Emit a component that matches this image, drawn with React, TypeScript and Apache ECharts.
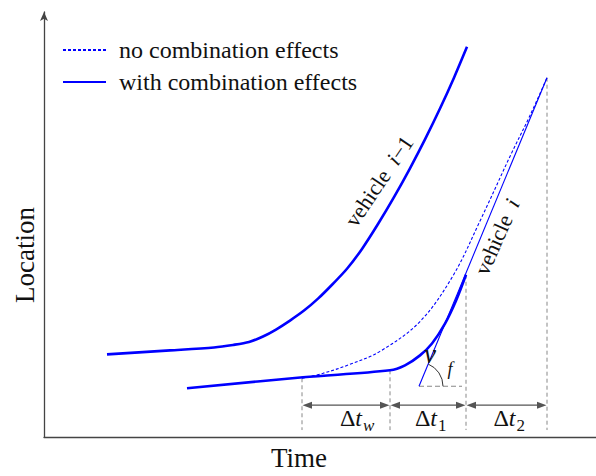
import React, { useEffect, useRef } from 'react';
import * as echarts from 'echarts';

const FONT = 'Liberation Serif';
const BLUE = '#0000ff';
const INK = '#111111';
const GRAY = '#555555';

// Schematic units: Time (x) and Location (y)
const leaderTime = [63, 126, 170, 189, 205, 219, 232, 246, 260, 274, 289, 303, 318, 334, 350, 366, 381, 396, 410, 423];
const leaderLoc = [83, 87, 90, 92.5, 95.5, 101, 108, 117, 127, 139, 154, 169, 189, 214, 241, 270, 299, 330, 361, 392];
const followerTime = [143, 259, 346, 361, 376, 388, 401, 412, 422];
const followerLoc = [49, 60, 67, 72, 82, 94, 114, 137, 163];
const noEffectTime = [258, 279, 306, 336, 376, 409, 436, 467, 486, 503];
const noEffectLoc = [59, 64, 73, 86, 116, 162, 217, 284, 323, 361];
const freeFlowTime = [375, 503];
const freeFlowLoc = [51, 361];
const refEndTime = 418;
const markTimes = [258, 346, 422, 503];
const markTopLoc = [59, 67, 163, 361];
const guideBottomLoc = 7;
const dimLoc = 32;
const dimSubs = ['w', '1', '2'];
const legendNames = ['no combination effects', 'with combination effects'];
const vehicleIndex = ['i−1', 'i'];
const vehicleLabelTime = [335, 453];
const vehicleLabelLoc = [257, 201];

const zip = (xs: number[], ys: number[]) => xs.map((x, i) => [x, ys[i]]);

const X_MAX = 552;
const Y_MAX = 427;

export default function App() {
  const ref = useRef<HTMLDivElement>(null);

  useEffect(() => {
    if (!ref.current) return;
    const chart = echarts.init(ref.current, undefined, { renderer: 'svg' });

    const vehicleRot = [56, 66];
    const dimMainEnd = [16, 9, 9];

    const option: any = {
      animation: false,
      backgroundColor: '#ffffff',
      textStyle: { fontFamily: FONT },
      grid: { left: 44, right: 0, top: 12, bottom: 37 },
      legend: {
        data: legendNames,
        orient: 'vertical',
        left: 62,
        top: 38,
        padding: 0,
        itemWidth: 43,
        itemHeight: 10,
        itemGap: 8,
        selectedMode: false,
        itemStyle: { opacity: 0 },
        textStyle: {
          fontFamily: FONT,
          fontSize: 24,
          color: INK,
          lineHeight: 24,
          padding: [0, 0, 0, 8],
        },
      },
      xAxis: {
        type: 'value',
        min: 0,
        max: X_MAX,
        name: 'Time',
        nameLocation: 'middle',
        nameGap: 7,
        nameTextStyle: { fontFamily: FONT, fontSize: 27, color: INK, padding: [0, 42, 0, 0] },
        axisLine: { show: true, lineStyle: { color: '#444', width: 1.3 } },
        axisTick: { show: false },
        axisLabel: { show: false },
        splitLine: { show: false },
      },
      yAxis: {
        type: 'value',
        min: 0,
        max: Y_MAX,
        name: 'Location',
        nameLocation: 'middle',
        nameRotate: 90,
        nameGap: 6,
        nameTextStyle: { fontFamily: FONT, fontSize: 27, color: INK, padding: [0, 61, 0, 0] },
        axisLine: {
          show: true,
          symbol: ['none', 'arrow'],
          symbolSize: [6, 9],
          lineStyle: { color: '#444', width: 1.3 },
        },
        axisTick: { show: false },
        axisLabel: { show: false },
        splitLine: { show: false },
      },
      series: [
        {
          name: 'vehicle i−1',
          type: 'line',
          data: zip(leaderTime, leaderLoc),
          smooth: 0.3,
          symbol: 'none',
          lineStyle: { color: BLUE, width: 2.6 },
          itemStyle: { color: BLUE },
          z: 5,
        },
        {
          name: legendNames[1],
          type: 'line',
          data: zip(followerTime, followerLoc),
          smooth: 0.35,
          symbol: 'none',
          lineStyle: { color: BLUE, width: 2.6 },
          itemStyle: { color: BLUE },
          z: 5,
        },
        {
          name: legendNames[0],
          type: 'line',
          data: zip(noEffectTime, noEffectLoc),
          smooth: 0.35,
          symbol: 'none',
          lineStyle: { color: BLUE, width: 1.1, type: [3, 2] },
          itemStyle: { color: BLUE },
          z: 4,
        },
        {
          name: 'free-flow speed',
          type: 'line',
          data: zip(freeFlowTime, freeFlowLoc),
          symbol: 'none',
          lineStyle: { color: BLUE, width: 1.1 },
          z: 4,
        },
        {
          name: 'reference',
          type: 'line',
          data: [
            [freeFlowTime[0], freeFlowLoc[0]],
            [refEndTime, freeFlowLoc[0]],
          ],
          symbol: 'none',
          lineStyle: { color: '#888', width: 1.1, type: [5, 3] },
          z: 3,
        },
        {
          name: 'guides',
          type: 'custom',
          data: zip(markTimes, markTopLoc),
          encode: { x: 0, y: 1 },
          z: 2,
          renderItem: (params: any, api: any) => {
            const top = api.coord([api.value(0), api.value(1)]);
            const bot = api.coord([api.value(0), guideBottomLoc]);
            return {
              type: 'line',
              shape: { x1: top[0], y1: top[1], x2: bot[0], y2: bot[1] },
              style: { stroke: '#888', lineWidth: 1, lineDash: [4, 3] },
            };
          },
        },
        {
          name: 'intervals',
          type: 'custom',
          data: markTimes.slice(0, 3).map((t, i) => [t, markTimes[i + 1], dimLoc]),
          encode: { x: [0, 1], y: 2 },
          z: 6,
          renderItem: (params: any, api: any) => {
            const i = params.dataIndex;
            const a = api.coord([api.value(0), api.value(2)]);
            const b = api.coord([api.value(1), api.value(2)]);
            const L = 10;
            const H = 3.5;
            const ex = (a[0] + b[0]) / 2 + dimMainEnd[i];
            const sub = dimSubs[i];
            const isLetter = /[a-z]/.test(sub);
            return {
              type: 'group',
              children: [
                {
                  type: 'line',
                  shape: { x1: a[0] + L, y1: a[1], x2: b[0] - L, y2: b[1] },
                  style: { stroke: GRAY, lineWidth: 1.3 },
                },
                {
                  type: 'polygon',
                  shape: { points: [[a[0] + 0.5, a[1]], [a[0] + L, a[1] - H], [a[0] + L, a[1] + H]] },
                  style: { fill: GRAY },
                },
                {
                  type: 'polygon',
                  shape: { points: [[b[0] - 0.5, b[1]], [b[0] - L, b[1] - H], [b[0] - L, b[1] + H]] },
                  style: { fill: GRAY },
                },
                {
                  type: 'text',
                  x: ex,
                  y: a[1] + 12.5,
                  style: {
                    text: '{d|Δ}{t|t}',
                    align: 'right',
                    verticalAlign: 'middle',
                    fill: INK,
                    rich: {
                      d: { fontFamily: FONT, fontSize: 24, fill: INK },
                      t: { fontFamily: FONT, fontSize: 24, fontStyle: 'italic', fill: INK },
                    },
                  },
                },
                {
                  type: 'text',
                  x: ex + 1,
                  y: a[1] + 20,
                  style: {
                    text: sub,
                    align: 'left',
                    verticalAlign: 'middle',
                    fill: INK,
                    fontFamily: FONT,
                    fontSize: 17,
                    fontStyle: isLetter ? 'italic' : 'normal',
                  },
                },
              ],
            };
          },
        },
        {
          name: 'speed angle',
          type: 'custom',
          data: [[freeFlowTime[0], freeFlowLoc[0]]],
          encode: { x: 0, y: 1 },
          z: 6,
          renderItem: (params: any, api: any) => {
            const c = api.coord([api.value(0), api.value(1)]);
            const far = api.coord([freeFlowTime[1], freeFlowLoc[1]]);
            const ang = Math.atan2(far[1] - c[1], far[0] - c[0]);
            return {
              type: 'group',
              children: [
                {
                  type: 'arc',
                  shape: { cx: c[0], cy: c[1], r: 24, startAngle: ang, endAngle: 0, clockwise: true },
                  style: { stroke: '#333', lineWidth: 1, fill: null },
                },
                {
                  type: 'text',
                  x: c[0] + 11,
                  y: c[1] - 32,
                  style: {
                    text: 'v',
                    align: 'center',
                    verticalAlign: 'middle',
                    fill: INK,
                    fontFamily: FONT,
                    fontSize: 27,
                    fontStyle: 'italic',
                  },
                },
                {
                  type: 'text',
                  x: c[0] + 31,
                  y: c[1] - 17,
                  style: {
                    text: 'f',
                    align: 'center',
                    verticalAlign: 'middle',
                    fill: INK,
                    fontFamily: FONT,
                    fontSize: 18,
                    fontStyle: 'italic',
                  },
                },
              ],
            };
          },
        },
        {
          name: 'vehicle labels',
          type: 'custom',
          data: zip(vehicleLabelTime, vehicleLabelLoc),
          encode: { x: 0, y: 1 },
          z: 6,
          renderItem: (params: any, api: any) => {
            const i = params.dataIndex;
            const p = api.coord([api.value(0), api.value(1)]);
            const idx = vehicleIndex[i];
            const tail = idx.slice(1);
            const text = tail ? `{n|vehicle  }{i|i}{n|${tail}}` : `{n|vehicle  }{i|i}`;
            return {
              type: 'text',
              x: p[0],
              y: p[1],
              rotation: (vehicleRot[i] * Math.PI) / 180,
              style: {
                text,
                align: 'center',
                verticalAlign: 'middle',
                fill: INK,
                rich: {
                  n: { fontFamily: FONT, fontSize: 22, fill: INK },
                  i: { fontFamily: FONT, fontSize: 22, fontStyle: 'italic', fill: INK },
                },
              },
            };
          },
        },
      ],
    };

    chart.setOption(option);
    return () => chart.dispose();
  }, []);

  return (
    <div
      ref={ref}
      style={{ position: 'fixed', left: 0, top: 0, width: 596, height: 476, background: '#fff' }}
    />
  );
}
